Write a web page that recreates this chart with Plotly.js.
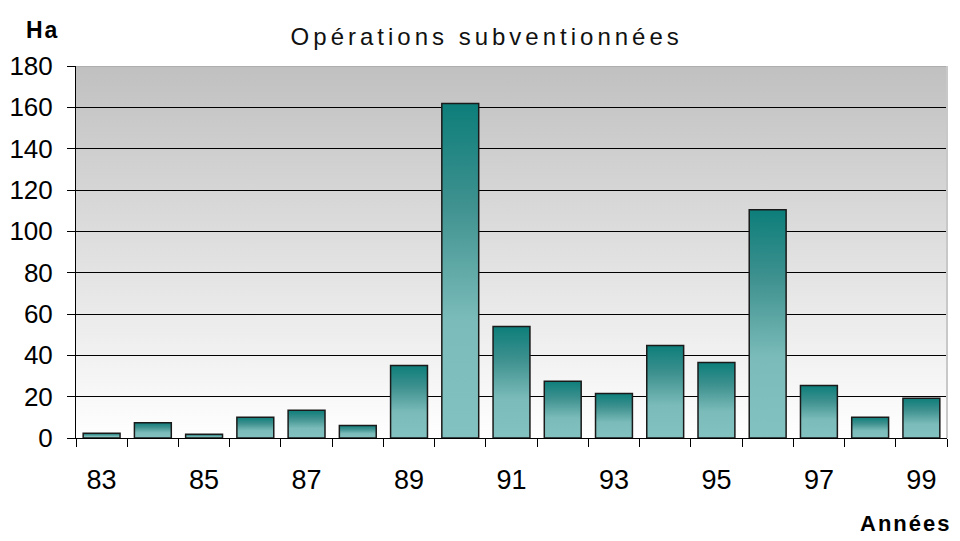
<!DOCTYPE html>
<html>
<head>
<meta charset="utf-8">
<script src="https://cdn.plot.ly/plotly-3.0.1.min.js"></script>
<style>
  html, body { margin: 0; padding: 0; background: #fff; }
  #chart { width: 960px; height: 541px; }
  .gtitle { letter-spacing: 4px; }
  .annotation-text { letter-spacing: 2px; }
</style>
</head>
<body>
<div id="chart"></div>
<script>
// ---- data ----
const years = ['83','84','85','86','87','88','89','90','91','92','93','94','95','96','97','98','99'];
const hectares = [2.3, 7.4, 1.8, 10, 13.4, 6.1, 35.1, 161.8, 53.9, 27.5, 21.5, 44.7, 36.5, 110.4, 25.4, 10, 19.2];
const tickLabels = ['83','85','87','89','91','93','95','97','99'];
const yTicks = [0, 20, 40, 60, 80, 100, 120, 140, 160, 180];

// ---- styling ----
const FONT = 'Liberation Sans, Arial, sans-serif';
const barHalf = 0.36;
const barScale = [[0, '#82c2c0'], [0.35, '#7bbcba'], [0.7, '#3e918f'], [1, '#0d7e7a']];

const traces = hectares.map((v, i) => ({
  type: 'scatter',
  mode: 'lines',
  x: [i - barHalf, i - barHalf, i + barHalf, i + barHalf, i - barHalf],
  y: [0, v, v, 0, 0],
  fill: 'toself',
  fillgradient: { type: 'vertical', colorscale: barScale, start: 0, stop: v },
  line: { color: '#1a1a1a', width: 1.5 },
  hoverinfo: 'text',
  text: years[i] + ' : ' + v + ' Ha',
  showlegend: false
}));

const tickPos = tickLabels.map(t => years.indexOf(t));

const bgSvg = '<svg xmlns="http://www.w3.org/2000/svg" width="100" height="100" preserveAspectRatio="none">' +
  '<defs><linearGradient id="g" x1="0" y1="0" x2="0" y2="1">' +
  '<stop offset="0" stop-color="#c0c0c0"/><stop offset="0.5" stop-color="#e0e0e0"/><stop offset="1" stop-color="#ffffff"/>' +
  '</linearGradient></defs><rect width="100" height="100" fill="url(#g)"/></svg>';

const layout = {
  width: 960, height: 541,
  margin: { l: 76, r: 13, t: 66, b: 103 },
  paper_bgcolor: '#ffffff',
  plot_bgcolor: 'rgba(0,0,0,0)',
  font: { family: FONT, color: '#000' },
  title: {
    text: 'Opérations subventionnées',
    font: { family: FONT, size: 24, color: '#111' },
    x: 0.507, xref: 'container', xanchor: 'center',
    y: 0.933, yref: 'container', yanchor: 'middle'
  },
  xaxis: {
    range: [-0.5, hectares.length - 0.5],
    tickmode: 'array', tickvals: tickPos, ticktext: tickLabels,
    ticks: '', ticklabelstandoff: 18,
    tickfont: { family: FONT, size: 27, color: '#000' },
    showgrid: false, zeroline: false,
    showline: true, linecolor: '#000', linewidth: 1,
    minor: { ticks: 'outside', ticklen: 8, tickcolor: '#000', tickwidth: 1, tick0: -0.5, dtick: 1, showgrid: false },
    fixedrange: true
  },
  yaxis: {
    range: [0, 180],
    tickmode: 'array', tickvals: yTicks,
    ticks: 'outside', ticklen: 8, tickcolor: '#000', tickwidth: 1,
    ticklabelstandoff: 9,
    tickfont: { family: FONT, size: 26, color: '#000' },
    showgrid: true, gridcolor: '#000', gridwidth: 1,
    zeroline: false,
    showline: true, linecolor: '#000', linewidth: 1,
    fixedrange: true
  },
  images: [{
    source: 'data:image/svg+xml;charset=utf-8,' + encodeURIComponent(bgSvg),
    xref: 'paper', yref: 'paper', x: 0, y: 1, sizex: 1, sizey: 1,
    xanchor: 'left', yanchor: 'top', sizing: 'stretch', layer: 'below'
  }],
  shapes: [
    { type: 'line', xref: 'paper', yref: 'y', x0: 0, x1: 1, y0: 180, y1: 180, line: { color: '#a8a8a8', width: 1.5 }, layer: 'above' },
    { type: 'line', xref: 'paper', yref: 'paper', x0: 1, x1: 1, y0: 0, y1: 1, line: { color: '#c8c8c8', width: 2 }, layer: 'above' }
  ],
  annotations: [
    { text: '<b>Ha</b>', xref: 'paper', yref: 'paper', x: -0.038, y: 1.097, xanchor: 'center', yanchor: 'middle',
      showarrow: false, font: { family: FONT, size: 23, color: '#000' } },
    { text: '<b>Années</b>', xref: 'paper', yref: 'paper', x: 1.007, y: -0.231, xanchor: 'right', yanchor: 'middle',
      showarrow: false, font: { family: FONT, size: 22, color: '#000' } }
  ]
};

Plotly.newPlot('chart', traces, layout, { displayModeBar: false, staticPlot: false });
</script>
</body>
</html>
